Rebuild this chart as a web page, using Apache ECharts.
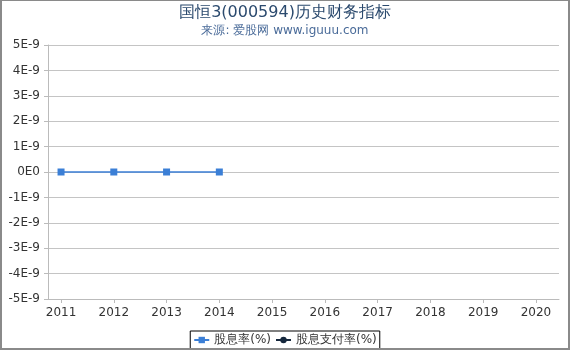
<!DOCTYPE html>
<html><head><meta charset="utf-8">
<script src="https://cdn.jsdelivr.net/npm/echarts@6/dist/echarts.min.js"></script>
<style>
html,body{margin:0;padding:0;background:#fff;}
#w{position:relative;width:570px;height:350px;}
#c{width:570px;height:350px;}
#b{position:absolute;left:0;top:0;width:570px;height:350px;box-sizing:border-box;border:2px solid #8a8a8a;border-top-width:1px;pointer-events:none;}
</style></head>
<body><div id="w"><div id="c"></div><div id="b"></div></div>
<script>
var years = [2011, 2012, 2013, 2014, 2015, 2016, 2017, 2018, 2019, 2020];
var dividendYearCats = [2011, 2012, 2013, 2014];
var dividendYield = [0, 0, 0, 0];
var payoutRatio = [];

function fmt(v){
  if (Math.abs(v) < 1e-15) return '0E0';
  var s = Number(v.toPrecision(6)).toExponential();
  return s.replace('e+','E').replace('e','E');
}
var chart = echarts.init(document.getElementById('c'), null, {renderer:'canvas'});
chart.setOption({
  animation:false,
  title:{
    text:'国恒3(000594)历史财务指标',
    subtext:'来源: 爱股网 www.iguuu.com',
    left:'center', top:0, itemGap:4,
    textStyle:{fontSize:16, fontWeight:'normal', color:'#2b4a6e', fontFamily:'DejaVu Sans'},
    subtextStyle:{fontSize:12, color:'#4a6b99', fontFamily:'DejaVu Sans'}
  },
  legend:{
    bottom:1, left:'center',
    borderColor:'#000', borderWidth:1, padding:[3,3,3,3], itemGap:4,
    itemWidth:15, itemHeight:8,
    textStyle:{fontSize:12, color:'#333', fontFamily:'DejaVu Sans'},
    data:['股息率(%)','股息支付率(%)']
  },
  grid:{left:48, right:11, top:45, bottom:51},
  xAxis:{
    type:'value', min:2010.753, max:2020.437,
    axisLine:{show:true, onZero:false, lineStyle:{color:'#bbb'}},
    axisTick:{show:true, customValues:years, length:4, lineStyle:{color:'#bbb'}},
    axisLabel:{customValues:years, color:'#333', fontSize:12, fontFamily:'DejaVu Sans', formatter:function(v){return String(Math.round(v));}},
    splitLine:{show:false}
  },
  yAxis:{
    type:'value', min:-5e-9, max:5e-9, interval:1e-9,
    axisLine:{show:true, lineStyle:{color:'#bbb'}},
    axisTick:{show:true, length:4, lineStyle:{color:'#bbb'}},
    axisLabel:{color:'#333', fontSize:12, fontFamily:'DejaVu Sans', formatter:fmt},
    splitLine:{show:true, lineStyle:{color:'#c4c4c4'}}
  },
  series:[
    {name:'股息率(%)', type:'line', symbol:'rect', symbolSize:7,
     itemStyle:{color:'#3b7fd6'}, lineStyle:{color:'#3b7fd6', width:1.5},
     data: dividendYearCats.map(function(y,i){return [y, dividendYield[i]];})},
    {name:'股息支付率(%)', type:'line', symbol:'circle', symbolSize:7,
     itemStyle:{color:'#15273d'}, lineStyle:{color:'#15273d', width:1.5},
     data: payoutRatio}
  ]
});
</script></body></html>
